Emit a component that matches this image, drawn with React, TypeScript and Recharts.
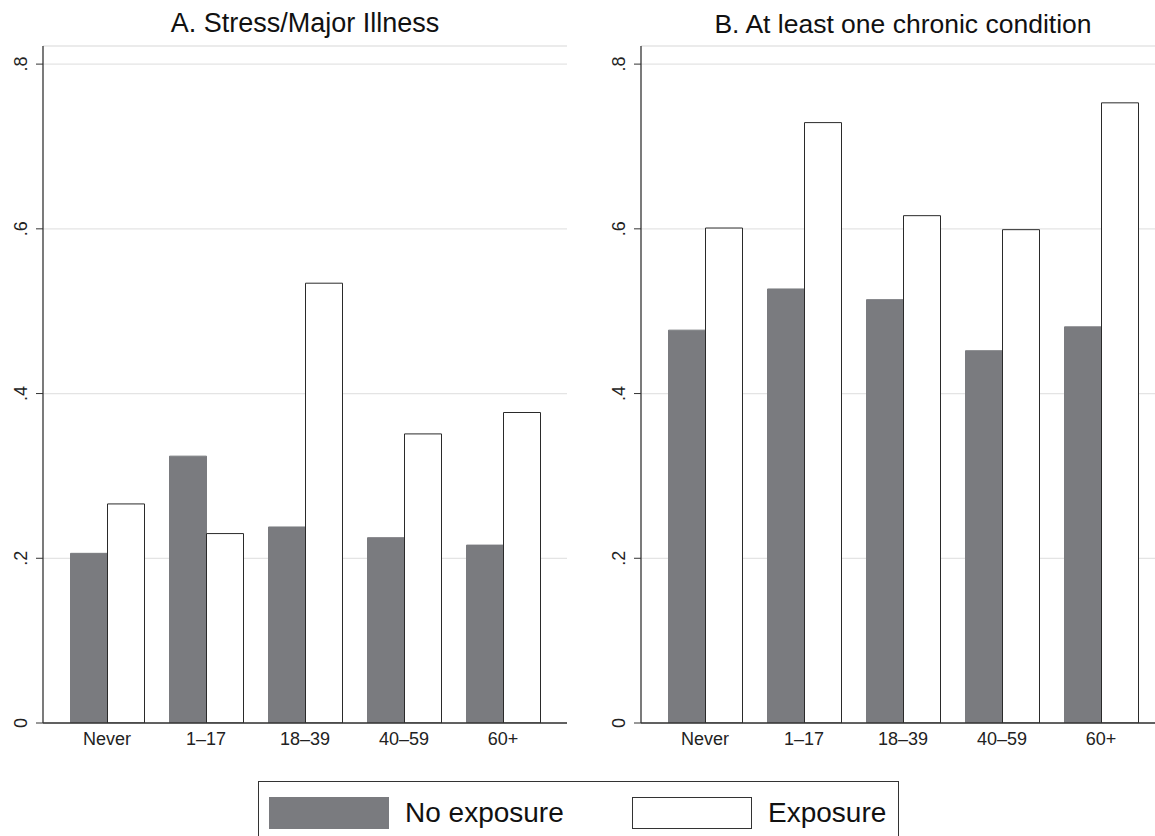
import React from 'react';
import { BarChart, Bar, XAxis, YAxis, CartesianGrid } from 'recharts';

const categories = ['Never', '1–17', '18–39', '40–59', '60+'];
const stressNoExposure = [0.206, 0.324, 0.238, 0.225, 0.216];
const stressExposure = [0.266, 0.230, 0.534, 0.351, 0.377];
const chronicNoExposure = [0.477, 0.527, 0.514, 0.452, 0.481];
const chronicExposure = [0.601, 0.729, 0.616, 0.599, 0.753];
const yTicks = [0, 0.2, 0.4, 0.6, 0.8];
const yTickLabels = ['0', '.2', '.4', '.6', '.8'];
const seriesNames = ['No exposure', 'Exposure'];
const panelTitles = ['A. Stress/Major Illness', 'B. At least one chronic condition'];

const FONT = '"Liberation Sans", Arial, Helvetica, sans-serif';
const GRAY = '#7a7b7f';
const INK = '#222222';
const Y_MAX = 0.822;

const buildData = (a: number[], b: number[]) =>
  categories.map((c, i) => ({ cat: c, noexp: a[i], exp: b[i] }));

const XTick = (props: any) => {
  const { x, y, payload } = props;
  return (
    <text x={x} y={y + 22} textAnchor="middle" fontSize={18} fontFamily={FONT} fill={INK}>
      {payload.value}
    </text>
  );
};

const YTick = (props: any) => {
  const { x, y, payload } = props;
  const idx = yTicks.indexOf(payload.value);
  const label = idx >= 0 ? yTickLabels[idx] : String(payload.value);
  return (
    <text
      transform={`translate(${x - 9}, ${y}) rotate(-90)`}
      textAnchor="middle"
      fontSize={18}
      fontFamily={FONT}
      fill={INK}
    >
      {label}
    </text>
  );
};

const Panel = ({ title, data, left, fs }: { title: string; data: any[]; left: number; fs: number }) => (
  <div style={{ position: 'absolute', left, top: 0, width: 600, height: 836 }}>
    <div
      style={{
        position: 'absolute',
        left: 43,
        top: 33 - 0.8465 * fs,
        width: 524,
        textAlign: 'center',
        fontSize: fs,
        lineHeight: `${fs}px`,
        fontFamily: FONT,
        color: '#111',
        whiteSpace: 'nowrap',
      }}
    >
      {title}
    </div>
    <BarChart
      width={600}
      height={836}
      data={data}
      margin={{ top: 46, right: 33, bottom: 73, left: 0 }}
      barSize={37}
      barGap={0}
    >
      <CartesianGrid vertical={false} stroke="#e4e4e4" strokeWidth={1.3} />
      <XAxis
        dataKey="cat"
        height={40}
        tickLine={false}
        tickSize={0}
        tickMargin={0}
        axisLine={{ stroke: '#333', strokeWidth: 1.3 }}
        padding={{ left: 14.5, right: 14.5 }}
        tick={<XTick />}
        interval={0}
      />
      <XAxis
        xAxisId="top"
        orientation="top"
        dataKey="cat"
        height={0}
        tick={false}
        tickLine={false}
        axisLine={{ stroke: '#555', strokeWidth: 1 }}
      />
      <YAxis
        width={43}
        domain={[0, Y_MAX]}
        ticks={yTicks}
        allowDataOverflow
        tickSize={7}
        tickMargin={0}
        axisLine={{ stroke: '#333', strokeWidth: 1.3 }}
        tickLine={{ stroke: '#333', strokeWidth: 1 }}
        tick={<YTick />}
        interval={0}
      />
      <YAxis
        yAxisId="right"
        orientation="right"
        width={0}
        domain={[0, Y_MAX]}
        tick={false}
        tickLine={false}
        axisLine={{ stroke: '#555', strokeWidth: 1 }}
      />
      <Bar dataKey="noexp" name={seriesNames[0]} fill={GRAY} stroke={GRAY} strokeWidth={1} isAnimationActive={false} />
      <Bar dataKey="exp" name={seriesNames[1]} fill="#ffffff" stroke="#2a2a2a" strokeWidth={1} isAnimationActive={false} />
    </BarChart>
  </div>
);

const LegendBox = () => (
  <div
    style={{
      position: 'absolute',
      left: 258,
      top: 781,
      width: 639,
      height: 70,
      border: '1px solid #333',
      fontFamily: FONT,
      background: '#fff',
    }}
  >
    <div style={{ position: 'absolute', left: 10, top: 15, width: 120, height: 32, background: GRAY }} />
    <div
      style={{
        position: 'absolute',
        left: 146,
        top: 12,
        fontSize: 28,
        lineHeight: '38px',
        color: '#111',
        whiteSpace: 'nowrap',
      }}
    >
      {seriesNames[0]}
    </div>
    <div
      style={{
        position: 'absolute',
        left: 373,
        top: 15,
        width: 118,
        height: 30,
        background: '#fff',
        border: '1px solid #333',
      }}
    />
    <div
      style={{
        position: 'absolute',
        left: 509,
        top: 12,
        fontSize: 28,
        lineHeight: '38px',
        color: '#111',
        whiteSpace: 'nowrap',
      }}
    >
      {seriesNames[1]}
    </div>
  </div>
);

export default function App() {
  return (
    <div
      style={{
        position: 'absolute',
        left: 0,
        top: 0,
        width: 1155,
        height: 836,
        overflow: 'hidden',
        background: '#fff',
      }}
    >
      <Panel title={panelTitles[0]} data={buildData(stressNoExposure, stressExposure)} left={0} fs={27} />
      <Panel title={panelTitles[1]} data={buildData(chronicNoExposure, chronicExposure)} left={598} fs={26.5} />
      <LegendBox />
    </div>
  );
}
